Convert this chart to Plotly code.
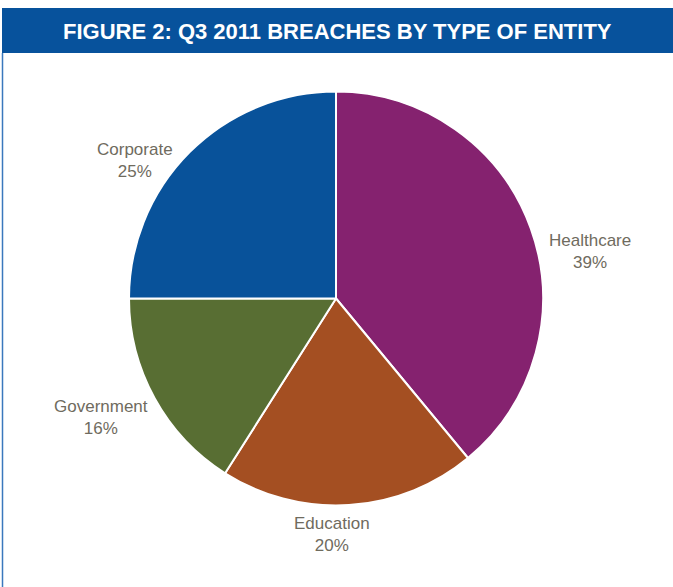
import plotly.graph_objects as go

# Q3 2011 breaches by type of entity
entities = ["Healthcare", "Education", "Government", "Corporate"]
shares = [39, 20, 16, 25]
colors = ["#85226f", "#a44f22", "#586e33", "#08529a"]

# label anchor points (pixels) for each slice
label_x = [590, 332, 101, 135]
label_y = [251, 534, 417, 160]

W, H = 673, 587
BLUE = "#07529c"
TEXT = "#6f6b5e"
FONT = "Liberation Sans Narrow, Arial Narrow, Liberation Sans, Arial, sans-serif"

cx, cy, r = 336, 298.5, 207

fig = go.Figure(
    go.Pie(
        labels=entities,
        values=shares,
        marker=dict(colors=colors, line=dict(color="white", width=2)),
        sort=False,
        direction="clockwise",
        rotation=0,
        textinfo="none",
        hoverinfo="label+percent",
        showlegend=False,
        domain=dict(x=[(cx - r) / W, (cx + r) / W], y=[1 - (cy + r) / H, 1 - (cy - r) / H]),
    )
)

annotations = []
for name, val, lx, ly in zip(entities, shares, label_x, label_y):
    annotations.append(
        dict(
            x=lx / W, y=1 - ly / H, xref="paper", yref="paper",
            text=f"{name}<br>{val}%", showarrow=False,
            font=dict(family=FONT, size=17, color=TEXT),
            align="center", xanchor="center", yanchor="middle",
        )
    )

annotations.append(
    dict(
        x=337 / W, y=1 - 31 / H, xref="paper", yref="paper",
        text="<b>FIGURE 2: Q3 2011 BREACHES BY TYPE OF ENTITY</b>", showarrow=False,
        font=dict(family=FONT, size=22, color="white"),
        xanchor="center", yanchor="middle",
    )
)

shapes = [
    # title banner
    dict(type="rect", xref="paper", yref="paper",
         x0=2 / W, x1=1.01, y0=1 - 53 / H, y1=1 - 8 / H,
         fillcolor=BLUE, line=dict(width=0), layer="below"),
    # left frame rule
    dict(type="line", xref="paper", yref="paper",
         x0=2.5 / W, x1=2.5 / W, y0=0, y1=1 - 53 / H,
         line=dict(color="#3a78bd", width=1.5)),
]

fig.update_layout(
    width=W, height=H,
    margin=dict(l=0, r=0, t=0, b=0),
    paper_bgcolor="white",
    plot_bgcolor="white",
    annotations=annotations,
    shapes=shapes,
)

fig.write_html("out.html")
